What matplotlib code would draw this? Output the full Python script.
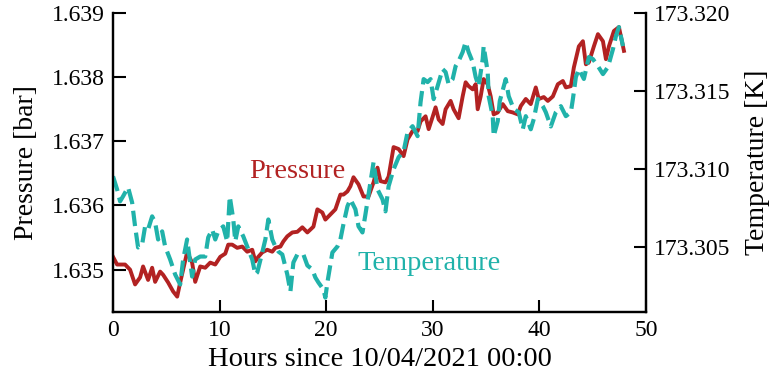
import matplotlib
matplotlib.use("Agg")
import matplotlib.pyplot as plt
from matplotlib.ticker import FormatStrFormatter

plt.rcParams['font.family'] = ['Liberation Serif', 'DejaVu Serif']
plt.rcParams['mathtext.fontset'] = 'stix'

# pressure readings (hours since start, bar)
p_hours = [0.00, 0.38, 1.13, 1.60, 2.07, 2.54, 2.82, 3.29, 3.67, 3.95, 4.42, 4.70,
           5.17, 5.64, 6.02, 6.30, 6.95, 7.42, 7.71, 8.18, 8.65, 9.12, 9.59, 10.06,
           10.53, 10.81, 11.18, 11.65, 12.12, 12.59, 13.06, 13.35, 13.63, 14.00, 14.47,
           14.94, 15.23, 15.70, 15.98, 16.35, 16.82, 17.29, 17.76, 18.23, 18.80, 19.17,
           19.64, 19.92, 20.39, 20.86, 21.33, 21.62, 21.99, 22.27, 22.56, 23.03, 23.50,
           23.97, 24.44, 24.81, 25.09, 25.56, 25.85, 26.32, 26.79, 27.26, 27.63, 28.10,
           28.57, 28.85, 29.32, 29.61, 29.98, 30.26, 30.55, 30.92, 31.20, 31.67, 31.95,
           32.42, 32.80, 33.08, 33.36, 33.74, 34.02, 34.21, 34.49, 34.77, 35.15, 35.43,
           35.71, 36.09, 36.56, 37.03, 37.50, 37.97, 38.25, 38.72, 39.19, 39.66, 39.94,
           40.41, 40.79, 41.26, 41.73, 42.20, 42.48, 42.95, 43.23, 43.70, 44.08, 44.36,
           44.64, 45.11, 45.49, 45.96, 46.24, 46.52, 46.99, 47.46, 47.93]
pressure = [1.63520, 1.63508, 1.63508, 1.63500, 1.63477, 1.63488, 1.63505, 1.63484,
            1.63503, 1.63481, 1.63497, 1.63492, 1.63480, 1.63466, 1.63458, 1.63480,
            1.63527, 1.63511, 1.63481, 1.63505, 1.63503, 1.63511, 1.63508, 1.63520,
            1.63525, 1.63539, 1.63539, 1.63534, 1.63536, 1.63528, 1.63531, 1.63513,
            1.63520, 1.63527, 1.63531, 1.63528, 1.63534, 1.63536, 1.63544, 1.63552,
            1.63558, 1.63559, 1.63566, 1.63558, 1.63567, 1.63594, 1.63589, 1.63578,
            1.63586, 1.63594, 1.63617, 1.63617, 1.63622, 1.63630, 1.63644, 1.63633,
            1.63614, 1.63614, 1.63636, 1.63659, 1.63638, 1.63636, 1.63645, 1.63691,
            1.63688, 1.63677, 1.63703, 1.63716, 1.63716, 1.63731, 1.63739, 1.63719,
            1.63738, 1.63753, 1.63734, 1.63727, 1.63750, 1.63763, 1.63750, 1.63736,
            1.63770, 1.63792, 1.63786, 1.63781, 1.63789, 1.63750, 1.63770, 1.63797,
            1.63789, 1.63770, 1.63742, 1.63745, 1.63758, 1.63747, 1.63745, 1.63742,
            1.63755, 1.63766, 1.63758, 1.63784, 1.63766, 1.63769, 1.63763, 1.63770,
            1.63789, 1.63794, 1.63784, 1.63786, 1.63815, 1.63848, 1.63856, 1.63820,
            1.63823, 1.63848, 1.63867, 1.63856, 1.63828, 1.63848, 1.63872, 1.63878,
            1.63841]

# temperature readings (hours since start, K)
t_hours = [0.00, 0.38, 0.66, 0.94, 1.41, 1.79, 2.07, 2.35, 2.73, 3.01, 3.29, 3.67,
           3.95, 4.23, 4.61, 4.89, 5.36, 5.83, 6.30, 6.58, 6.95, 7.42, 7.71, 8.18,
           8.65, 8.93, 9.30, 9.59, 9.87, 10.34, 10.71, 10.95, 11.28, 11.47, 11.75,
           12.22, 12.59, 13.06, 13.35, 13.53, 14.00, 14.29, 14.57, 14.94, 15.23, 15.51,
           15.88, 16.35, 16.64, 16.92, 17.29, 17.86, 18.23, 18.70, 18.98, 19.27, 19.74,
           19.92, 20.11, 20.58, 21.05, 21.33, 21.62, 21.99, 22.27, 22.74, 23.03, 23.40,
           23.68, 24.15, 24.44, 24.81, 25.28, 25.56, 25.85, 26.32, 26.79, 27.26, 27.63,
           28.10, 28.57, 28.85, 29.14, 29.51, 29.79, 30.08, 30.45, 30.92, 31.20, 31.48,
           31.86, 32.14, 32.42, 32.80, 33.08, 33.36, 33.74, 34.02, 34.30, 34.68, 34.77,
           35.15, 35.24, 35.62, 35.71, 36.09, 36.28, 36.84, 37.12, 37.59, 38.06, 38.44,
           38.72, 39.19, 39.47, 39.85, 40.32, 40.60, 41.07, 41.54, 42.01, 42.48, 42.95,
           43.14, 43.42, 43.70, 44.17, 44.64, 45.02, 45.49, 45.96, 46.43, 46.90, 47.18,
           47.46, 47.84]
temperature = [173.30955, 173.30872, 173.30795, 173.30827, 173.30885, 173.30788,
               173.30635, 173.30500, 173.30519, 173.30635, 173.30615, 173.30699,
               173.30660, 173.30551, 173.30603, 173.30506, 173.30423, 173.30327,
               173.30263, 173.30423, 173.30551, 173.30314, 173.30423, 173.30442,
               173.30442, 173.30564, 173.30615, 173.30551, 173.30603, 173.30635,
               173.30538, 173.30827, 173.30680, 173.30540, 173.30635, 173.30571,
               173.30506, 173.30423, 173.30327, 173.30340, 173.30468, 173.30551,
               173.30679, 173.30551, 173.30506, 173.30474, 173.30455, 173.30327,
               173.30218, 173.30404, 173.30455, 173.30455, 173.30385, 173.30359,
               173.30308, 173.30276, 173.30231, 173.30179, 173.30276, 173.30468,
               173.30506, 173.30551, 173.30650, 173.30763, 173.30808, 173.30744,
               173.30635, 173.30596, 173.30712, 173.30917, 173.31045, 173.30872,
               173.30808, 173.30731, 173.30891, 173.31000, 173.31077, 173.31115,
               173.31237, 173.31276, 173.31212, 173.31429, 173.31577, 173.31558,
               173.31577, 173.31449, 173.31532, 173.31641, 173.31622, 173.31545,
               173.31577, 173.31660, 173.31692, 173.31750, 173.31814, 173.31750,
               173.31686, 173.31590, 173.31532, 173.31705, 173.31788, 173.31622,
               173.31468, 173.31340, 173.31212, 173.31308, 173.31436, 173.31577,
               173.31468, 173.31385, 173.31365, 173.31256, 173.31340, 173.31256,
               173.31321, 173.31449, 173.31404, 173.31365, 173.31274, 173.31365,
               173.31404, 173.31340, 173.31365, 173.31449, 173.31590, 173.31641,
               173.31578, 173.31718, 173.31705, 173.31660, 173.31609, 173.31654,
               173.31769, 173.31853, 173.31910, 173.31788]

p_ticks = [1.635, 1.636, 1.637, 1.638, 1.639]
t_ticks = [173.305, 173.310, 173.315, 173.320]
x_ticks = [0, 10, 20, 30, 40, 50]

red = "#b22222"
teal = "#20b2aa"

fig = plt.figure(figsize=(7.72, 3.82), dpi=100)
ax = fig.add_axes([0.1464, 0.1832, 0.6904, 0.7828])
ax2 = ax.twinx()

ax.plot(p_hours, pressure, color=red, lw=2.8)
ax2.plot(t_hours, temperature, color=teal, lw=3.0, ls="--")

ax.set_xlim(0, 50)
ax.set_ylim(1.63434, 1.63900)
ax2.set_ylim(173.30087, 173.32000)
ax.set_xticks(x_ticks)
ax.set_yticks(p_ticks)
ax2.set_yticks(t_ticks)
ax.yaxis.set_major_formatter(FormatStrFormatter('%.3f'))
ax2.yaxis.set_major_formatter(FormatStrFormatter('%.3f'))

for a in (ax, ax2):
  a.spines['top'].set_visible(False)
  for s in a.spines.values():
    s.set_linewidth(1.6)
  a.tick_params(direction='in', length=9, width=1.5, labelsize=17, pad=6)

ax.set_xlabel("Hours since 10/04/2021 00:00", fontsize=20.5, labelpad=4)
ax.set_ylabel("Pressure [bar]", fontsize=20, labelpad=9)
ax2.set_ylabel("Temperature [K]", fontsize=20, labelpad=10)

ax.text(17.3, 1.63653, "Pressure", color=red, fontsize=20.5, ha='center', va='center')
ax2.text(29.65, 173.30400, "Temperature", color=teal, fontsize=20.5, ha='center', va='center')

fig.savefig("out.png", dpi=100)
